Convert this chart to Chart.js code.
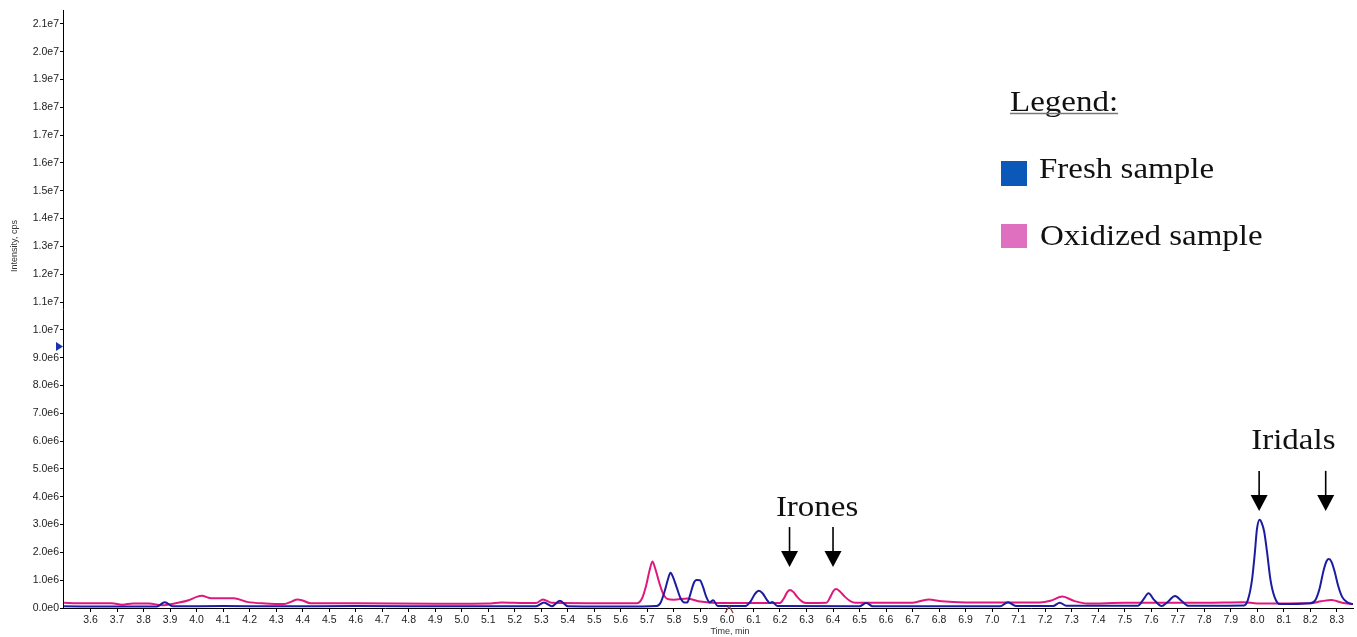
<!DOCTYPE html>
<html>
<head>
<meta charset="utf-8">
<script src="https://cdn.jsdelivr.net/npm/chart.js@4.4.1/dist/chart.umd.min.js"></script>
<style>
  html, body { margin: 0; padding: 0; background: #fff; }
  #chromatogram { display: block; }
</style>
</head>
<body>
<canvas id="chromatogram" width="1357" height="637"></canvas>
<script>
// retention time (min) / intensity (x1e6 cps)
const freshTime = [3.50, 3.70, 3.85, 3.88, 3.91, 4.10, 4.30, 4.60, 5.00, 5.28, 5.31, 5.34, 5.37, 5.40, 5.60,
  5.735, 5.75, 5.765, 5.778, 5.787, 5.797, 5.81, 5.825, 5.84,
  5.85, 5.862, 5.875, 5.885, 5.898, 5.91, 5.922, 5.935, 5.948, 5.965,
  6.07, 6.09, 6.105, 6.12, 6.135, 6.15, 6.162, 6.17, 6.19,
  6.50, 6.525, 6.55, 7.03, 7.06, 7.09, 7.23, 7.255, 7.28,
  7.55, 7.57, 7.59, 7.61, 7.64, 7.66, 7.69, 7.715, 7.74,
  7.95, 7.965, 7.98, 7.99, 7.999, 8.009, 8.017, 8.026, 8.037, 8.05, 8.065, 8.085,
  8.20, 8.22, 8.235, 8.25, 8.262, 8.27, 8.28, 8.292, 8.305, 8.32, 8.34, 8.361];
const freshIntensity = [0.06, 0.05, 0.05, 0.21, 0.06, 0.07, 0.06, 0.07, 0.06, 0.06, 0.20, 0.06, 0.26, 0.06, 0.05,
  0.07, 0.2, 0.6, 1.05, 1.27, 1.1, 0.75, 0.35, 0.2,
  0.2, 0.5, 0.9, 1.01, 1.0, 0.75, 0.4, 0.2, 0.28, 0.07,
  0.07, 0.25, 0.5, 0.62, 0.52, 0.3, 0.18, 0.22, 0.07,
  0.06, 0.18, 0.06, 0.06, 0.21, 0.07, 0.07, 0.19, 0.08,
  0.08, 0.3, 0.53, 0.3, 0.07, 0.2, 0.43, 0.25, 0.08,
  0.09, 0.3, 1.0, 1.9, 2.85, 3.17, 3.05, 2.75, 2.0, 1.0, 0.4, 0.14,
  0.17, 0.3, 0.7, 1.35, 1.7, 1.76, 1.66, 1.3, 0.8, 0.4, 0.2, 0.14];

const oxidizedTime = [3.50, 3.55, 3.68, 3.72, 3.76, 3.82, 3.87, 3.93, 3.97, 4.00, 4.02, 4.045, 4.06, 4.14, 4.19, 4.26,
  4.33, 4.36, 4.38, 4.40, 4.43, 4.60, 4.90, 5.10, 5.15, 5.24, 5.28, 5.306, 5.34,
  5.66, 5.68, 5.695, 5.708, 5.719, 5.73, 5.745, 5.76, 5.775,
  5.80, 5.85, 5.90, 5.96, 6.20, 6.215, 6.228, 6.238, 6.25, 6.265, 6.285, 6.30,
  6.375, 6.39, 6.402, 6.412, 6.425, 6.445, 6.465, 6.485, 6.70, 6.76, 6.81, 6.90,
  7.18, 7.22, 7.265, 7.31, 7.36, 7.50, 7.80, 7.95, 8.00, 8.20, 8.24, 8.28, 8.32, 8.361];
const oxidizedIntensity = [0.19, 0.17, 0.17, 0.12, 0.16, 0.16, 0.10, 0.19, 0.28, 0.40, 0.44, 0.37, 0.35, 0.35, 0.22, 0.16,
  0.14, 0.24, 0.31, 0.27, 0.17, 0.17, 0.15, 0.16, 0.20, 0.18, 0.18, 0.31, 0.19,
  0.17, 0.35, 0.8, 1.35, 1.67, 1.4, 0.9, 0.5, 0.33,
  0.30, 0.34, 0.23, 0.18, 0.18, 0.35, 0.58, 0.65, 0.58, 0.4, 0.22, 0.18,
  0.19, 0.4, 0.62, 0.68, 0.6, 0.4, 0.25, 0.19, 0.19, 0.31, 0.24, 0.20,
  0.20, 0.26, 0.41, 0.25, 0.16, 0.19, 0.19, 0.21, 0.16, 0.17, 0.24, 0.29, 0.19, 0.14];

const timeTicks = [3.6, 3.7, 3.8, 3.9, 4.0, 4.1, 4.2, 4.3, 4.4, 4.5, 4.6, 4.7, 4.8, 4.9, 5.0, 5.1, 5.2,
  5.3, 5.4, 5.5, 5.6, 5.7, 5.8, 5.9, 6.0, 6.1, 6.2, 6.3, 6.4, 6.5, 6.6, 6.7, 6.8, 6.9, 7.0, 7.1, 7.2,
  7.3, 7.4, 7.5, 7.6, 7.7, 7.8, 7.9, 8.0, 8.1, 8.2, 8.3];
const intensityTicks = [0, 1, 2, 3, 4, 5, 6, 7, 8, 9, 10, 11, 12, 13, 14, 15, 16, 17, 18, 19, 20, 21];

const seriesNames = ['Fresh sample', 'Oxidized sample'];
const peakGroups = [
  { label: 'Irones', labelTime: 6.34, arrowTimes: [6.236, 6.40] },
  { label: 'Iridals', labelTime: 8.136, arrowTimes: [8.007, 8.258] }
];

const tickFont = { family: '"Liberation Sans Narrow", "Arial Narrow", "Liberation Sans", sans-serif', size: 10.5 };

function serifText(ctx, str, x, yBase, center) {
  ctx.save();
  ctx.font = '30px "Liberation Serif", "Times New Roman", serif';
  const stretch = 1.1;
  const w = ctx.measureText(str).width * stretch;
  ctx.translate(center ? x - w / 2 : x, yBase);
  ctx.scale(stretch, 1);
  ctx.fillStyle = '#111';
  ctx.textAlign = 'left';
  ctx.textBaseline = 'alphabetic';
  ctx.fillText(str, 0, 0);
  ctx.restore();
  return w;
}

function arrowDown(ctx, px, yTop, yTip) {
  ctx.save();
  ctx.strokeStyle = '#000';
  ctx.fillStyle = '#000';
  ctx.lineWidth = 1.6;
  ctx.beginPath();
  ctx.moveTo(px, yTop);
  ctx.lineTo(px, yTip - 14);
  ctx.stroke();
  ctx.beginPath();
  ctx.moveTo(px - 8.5, yTip - 16);
  ctx.lineTo(px + 8.5, yTip - 16);
  ctx.lineTo(px, yTip);
  ctx.closePath();
  ctx.fill();
  ctx.restore();
}

const annotate = {
  id: 'annotate',
  afterDraw(chart) {
    const { ctx, scales: { x, y } } = chart;

    // axis titles
    ctx.save();
    ctx.fillStyle = '#333';
    ctx.font = '9px "Liberation Sans", Arial, sans-serif';
    ctx.textAlign = 'center';
    ctx.textBaseline = 'middle';
    ctx.fillText('Time, min', 730, 632);
    ctx.translate(15, 246);
    ctx.rotate(-Math.PI / 2);
    ctx.fillText('Intensity, cps', 0, 0);
    ctx.restore();

    // instrument cursor marks
    ctx.save();
    const my = y.getPixelForValue(9.4);
    ctx.fillStyle = '#1535a8';
    ctx.beginPath();
    ctx.moveTo(56, my - 4.5);
    ctx.lineTo(63, my);
    ctx.lineTo(56, my + 4.5);
    ctx.closePath();
    ctx.fill();
    const cx = x.getPixelForValue(6.008);
    ctx.strokeStyle = '#8a3b3b';
    ctx.lineWidth = 1.3;
    ctx.beginPath();
    ctx.moveTo(cx - 4, 613);
    ctx.lineTo(cx, 606);
    ctx.lineTo(cx + 4, 613);
    ctx.stroke();
    ctx.restore();

    // peak annotations
    const irones = peakGroups[0], iridals = peakGroups[1];
    serifText(ctx, irones.label, x.getPixelForValue(irones.labelTime), y.getPixelForValue(3.31), true);
    irones.arrowTimes.forEach(t => arrowDown(ctx, x.getPixelForValue(t), y.getPixelForValue(2.91), y.getPixelForValue(1.47)));
    serifText(ctx, iridals.label, x.getPixelForValue(iridals.labelTime), y.getPixelForValue(5.72), true);
    iridals.arrowTimes.forEach(t => arrowDown(ctx, x.getPixelForValue(t), y.getPixelForValue(4.93), y.getPixelForValue(3.49)));

    // legend
    const w = serifText(ctx, 'Legend:', 1010, 111, false);
    ctx.save();
    ctx.strokeStyle = '#777';
    ctx.lineWidth = 1.5;
    ctx.beginPath();
    ctx.moveTo(1010, 113.5);
    ctx.lineTo(1010 + w, 113.5);
    ctx.stroke();
    ctx.fillStyle = '#0b58b8';
    ctx.fillRect(1001, 161, 26, 25);
    ctx.fillStyle = '#df70c0';
    ctx.fillRect(1001, 224, 26, 24);
    ctx.restore();
    serifText(ctx, seriesNames[0], 1039, 178, false);
    serifText(ctx, seriesNames[1], 1040, 245, false);
  }
};

const toPoints = (ts, vs) => ts.map((t, i) => ({ x: t, y: vs[i] }));

const ctx = document.getElementById('chromatogram').getContext('2d');
new Chart(ctx, {
  type: 'line',
  data: {
    datasets: [
      {
        label: seriesNames[0],
        data: toPoints(freshTime, freshIntensity),
        borderColor: '#1c1ca0',
        borderWidth: 2,
        pointRadius: 0,
        cubicInterpolationMode: 'monotone'
      },
      {
        label: seriesNames[1],
        data: toPoints(oxidizedTime, oxidizedIntensity),
        borderColor: '#e0187e',
        borderWidth: 2,
        pointRadius: 0,
        cubicInterpolationMode: 'monotone'
      }
    ]
  },
  options: {
    responsive: false,
    animation: false,
    layout: { padding: { left: 0, right: 4, top: 10, bottom: 0 } },
    plugins: { legend: { display: false }, tooltip: { enabled: false } },
    scales: {
      x: {
        type: 'linear',
        min: 3.496,
        max: 8.361,
        afterFit: s => { s.height = 29; },
        afterBuildTicks: s => { s.ticks = timeTicks.map(v => ({ value: v })); },
        border: { display: true, color: '#000', width: 1 },
        grid: { display: true, drawOnChartArea: false, drawTicks: true, tickLength: 4, color: '#000' },
        ticks: {
          autoSkip: false,
          maxRotation: 0,
          padding: 2,
          color: '#222',
          font: tickFont,
          callback: v => Number(v).toFixed(1)
        }
      },
      y: {
        type: 'linear',
        min: 0,
        max: 21.5,
        afterFit: s => { s.width = 63; },
        afterBuildTicks: s => { s.ticks = intensityTicks.map(v => ({ value: v })); },
        border: { display: true, color: '#000', width: 1 },
        grid: { display: true, drawOnChartArea: false, drawTicks: true, tickLength: 3, color: '#000' },
        ticks: {
          padding: 1,
          color: '#222',
          font: tickFont,
          callback: v => (v * 1e6).toExponential(1).replace('+', '')
        }
      }
    }
  },
  plugins: [annotate]
});
</script>
</body>
</html>
